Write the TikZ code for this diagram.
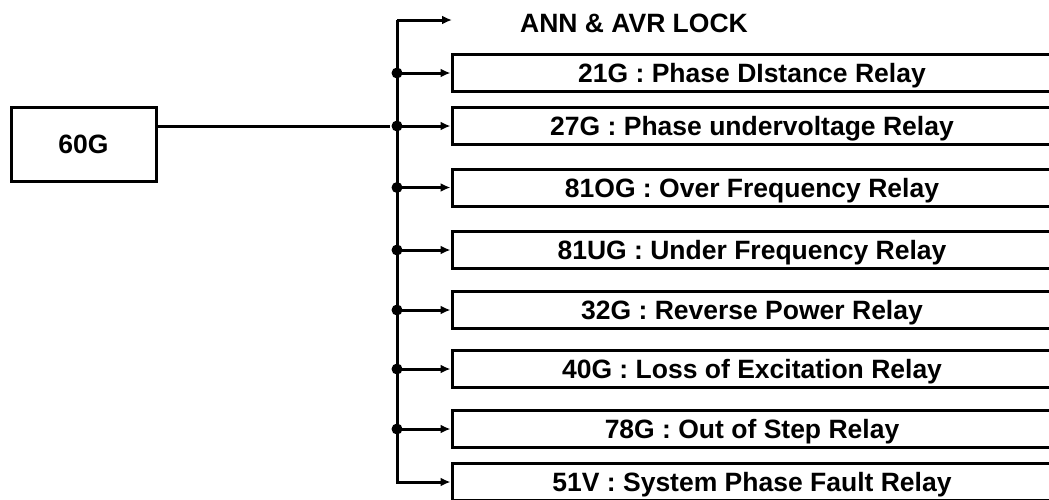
\documentclass[tikz,border=0pt]{standalone}
\usepackage{fontspec}
\setmainfont{Liberation Sans}
\usetikzlibrary{positioning, arrows.meta}

\begin{document}
\begin{tikzpicture}[
      x=1pt, y=-1pt,
      line width=3pt,
      every node/.style = {font=\fontsize{26.5}{30}\selectfont\bfseries},
      relay/.style = {shape=rectangle, draw, minimum width=600pt,
        minimum height=37pt, inner sep=0pt, text depth=0pt},
      tap/.style = {-{Latex[length=10pt,width=9pt]}},
      dot/.style = {circle, fill, inner sep=0pt, minimum size=11pt}
    ]
      \useasboundingbox (0,0) rectangle (1049,499);

      % source
      \node[draw, minimum width=145pt, minimum height=74pt, text depth=0pt] (g60) at (83.5,144.5) {60G};

      % relays
      \node[relay] (r1) at (752,73)  {21G : Phase DIstance Relay};
      \node[relay] (r2) at (752,126) {27G : Phase undervoltage Relay};
      \node[relay] (r3) at (752,187.5) {81OG : Over Frequency Relay};
      \node[relay] (r4) at (752,250) {81UG : Under Frequency Relay};
      \node[relay] (r5) at (752,310) {32G : Reverse Power Relay};
      \node[relay] (r6) at (752,369) {40G : Loss of Excitation Relay};
      \node[relay] (r7) at (752,429) {78G : Out of Step Relay};
      \node[relay] (r8) at (752,482) {51V : System Phase Fault Relay};

      \node[text depth=0pt] (lock) at (634,23) {ANN \& AVR LOCK};

      % bus
      \coordinate (bus) at (397,20);
      \coordinate (ann) at (452,20);
      \draw[tap] (bus) -- (ann);
      \draw[tap] (bus) |- (r8.west);
      \foreach \i in {1,...,7} {
        \draw[tap] (r\i.west -| bus) -- (r\i.west);
        \node[dot] (d\i) at (r\i.west -| bus) {};
      }
      \draw (g60.east |- r2.west) -- (d2);
    \end{tikzpicture}
\end{document}
